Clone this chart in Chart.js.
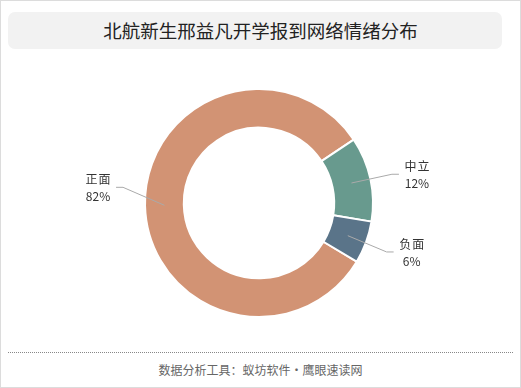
<!DOCTYPE html>
<html><head><meta charset="utf-8">
<script src="https://cdn.jsdelivr.net/npm/chart.js@4/dist/chart.umd.min.js"></script>
<style>
html,body{margin:0;padding:0;background:#fff;}
#wrap{position:relative;width:521px;height:388px;box-sizing:border-box;border:1px solid #dcdcdc;overflow:hidden;font-family:"Noto Sans CJK SC","Noto Sans",sans-serif;}
#tbox{position:absolute;left:7px;top:11px;width:494px;height:37px;border-radius:7px;background:#f2f2f2;}
#title{position:absolute;left:-1px;top:11px;width:521px;height:37px;line-height:37px;text-align:center;font-size:18.5px;color:#222;}
#dots{position:absolute;left:7px;top:351px;width:505px;height:0;border-top:1px dotted #888;}
#foot{position:absolute;left:-1px;top:359px;width:521px;height:20px;line-height:20px;text-align:center;font-size:12px;color:#666;}
#cv{position:absolute;left:-1px;top:59px;}
</style></head>
<body>
<div id="wrap">
<div id="tbox"></div>
<div id="title">北航新生邢益凡开学报到网络情绪分布</div>
<canvas id="cv" width="518" height="286"></canvas>
<div id="dots"></div>
<div id="foot">数据分析工具：蚁坊软件·鹰眼速读网</div>
</div>
<script>
const categories = ["正面", "中立", "负面"];
const values = [82, 12, 6];
const colors = ["#d29374", "#689a8e", "#5a7489"];

const labelPlugin = {
  id: 'sideLabels',
  afterDatasetsDraw(chart, args, opts) {
    const ctx = chart.ctx;
    const meta = chart.getDatasetMeta(0);
    const total = values.reduce((a, b) => a + b, 0);
    meta.data.forEach((arc, i) => {
      const p = arc.getProps(['x', 'y', 'startAngle', 'endAngle', 'innerRadius', 'outerRadius'], true);
      const mid = (p.startAngle + p.endAngle) / 2;
      const rMid = (p.innerRadius + p.outerRadius) / 2;
      const cos = Math.cos(mid), sin = Math.sin(mid);
      const x0 = p.x + cos * rMid, y0 = p.y + sin * rMid;
      const rE = p.outerRadius + opts.len1;
      const x1 = p.x + cos * rE;
      const y1 = p.y + sin * rE + (opts.nudge[i] || 0);
      const right = cos >= 0;
      const x2 = x1 + (right ? opts.len2 : -opts.len2);
      ctx.save();
      ctx.strokeStyle = '#aaaaaa';
      ctx.lineWidth = 1;
      ctx.beginPath();
      ctx.moveTo(x0, y0);
      ctx.lineTo(x1, y1);
      ctx.lineTo(x2, y1);
      ctx.stroke();
      ctx.font = '12px "Noto Sans CJK SC", sans-serif';
      ctx.fillStyle = '#333';
      ctx.textBaseline = 'middle';
      ctx.textAlign = 'center';
      const name = categories[i];
      const pct = Math.round(values[i] / total * 100) + '%';
      const w = Math.max(ctx.measureText(name).width + 2, ctx.measureText(pct).width);
      const cx = right ? x2 + 5 + w / 2 : x2 - 5 - w / 2;
      ctx.letterSpacing = '1px';
      ctx.fillText(name, cx + 0.5, y1 - 8);
      ctx.letterSpacing = '0px';
      ctx.fillText(pct, cx, y1 + 9);
      ctx.restore();
    });
  }
};

new Chart(document.getElementById('cv'), {
  type: 'doughnut',
  data: {
    labels: categories,
    datasets: [{
      data: values,
      backgroundColor: colors,
      borderColor: '#ffffff',
      borderWidth: 2,
      hoverOffset: 0
    }]
  },
  options: {
    responsive: false,
    animation: false,
    radius: 114,
    cutout: '66%',
    rotation: 121,
    layout: { padding: 0 },
    plugins: {
      legend: { display: false },
      tooltip: { enabled: false },
      title: { display: false },
      sideLabels: { len1: 22, len2: 7, nudge: [-19, 0, 2] }
    }
  },
  plugins: [labelPlugin]
});
</script>
</body></html>
